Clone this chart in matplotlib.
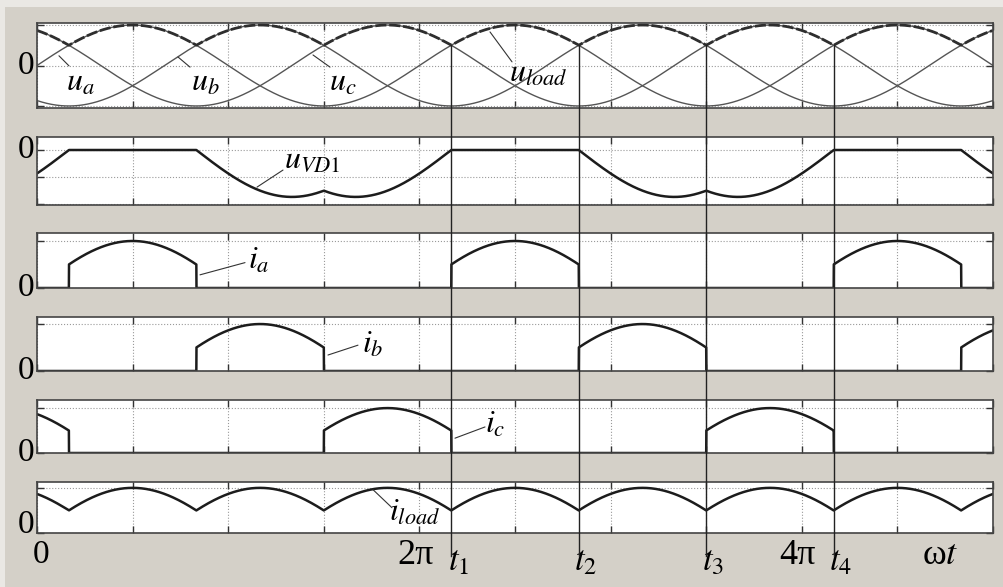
import numpy as np
import matplotlib
matplotlib.use("Agg")
import matplotlib.pyplot as plt
from matplotlib import transforms
from matplotlib.lines import Line2D
from matplotlib.patches import Rectangle

plt.rcParams['font.family'] = ['Liberation Serif', 'DejaVu Serif']
plt.rcParams['mathtext.fontset'] = 'stix'

# Three-phase half-wave rectifier with resistive load (per-unit values)
phase_names = ['a', 'b', 'c']
phase_shift_deg = [0, -120, 120]
amplitude = 1.0
load_resistance = 1.0

# Horizontal span and grid spacing (radians)
omega_t_end = 5 * np.pi
grid_step = np.pi / 2

# Commutation instants t1..t4 (radians)
t_marks = [13 * np.pi / 6, 17 * np.pi / 6, 21 * np.pi / 6, 25 * np.pi / 6]
t_names = ['$t_1$', '$t_2$', '$t_3$', '$t_4$']

# Labels printed under the bottom axis: (position in rad, text)
x_marks = [(2 * np.pi, '2π'), (4 * np.pi, '4π')]

# ---------------------------------------------------------------- waveforms
wt = np.linspace(0, omega_t_end, 6001)
u_phase = np.array([amplitude * np.sin(wt + np.radians(s)) for s in phase_shift_deg])
u_load = u_phase.max(axis=0)
conducting = u_phase.argmax(axis=0)
i_phase = [np.where(conducting == k, u_load / load_resistance, 0.0) for k in range(3)]
i_load = u_load / load_resistance
u_vd1 = u_phase[0] - u_load

# ---------------------------------------------------------------- figure
W, H = 1004, 587
fig = plt.figure(figsize=(W / 100, H / 100), dpi=100)
fig.patch.set_facecolor('#eae8e4')
fig.add_artist(Rectangle((5 / W, 0), 1, 1 - 7 / H, transform=fig.transFigure,
                         facecolor='#d4d0c8', edgecolor='none', zorder=-5))

left_px, right_px = 37, 993
rows_px = [(23, 108), (137, 205), (233, 288), (317, 371), (400, 453), (482, 533)]
ylims = [(-1.05, 1.05), (-2.03, 0.48), (0, 1.17), (0, 1.15), (0, 1.18), (0, 1.13)]
ygrids = [[-1, 0, 1], [-2, -1, 0], [0, 1], [0, 1], [0, 1], [0, 1]]

axes = []
for (top, bot), yl, yg in zip(rows_px, ylims, ygrids):
    ax = fig.add_axes([left_px / W, 1 - bot / H, (right_px - left_px) / W, (bot - top) / H])
    ax.set_facecolor('white')
    ax.set_xlim(0, omega_t_end)
    ax.set_ylim(*yl)
    ax.set_xticks(np.arange(0, omega_t_end + 1e-9, grid_step))
    ax.set_yticks(yg)
    ax.tick_params(direction='in', top=True, right=True, length=5, width=1.0,
                   color='#333333', labelbottom=False, labelleft=False)
    ax.grid(True, ls=':', color='#9a9a9a', lw=0.8)
    for sp in ax.spines.values():
        sp.set_color('#444444')
        sp.set_linewidth(1.2)
    axes.append(ax)

ax1, ax2, ax3, ax4, ax5, ax6 = axes
dark = '#1c1c1c'

# phase voltages and load voltage envelope
for k in range(3):
    ax1.plot(wt, u_phase[k], color='#555555', lw=1.0)
ax1.plot(wt, u_load, color='#2e2e2e', lw=2.0, ls=(0, (4, 1)))

ax2.plot(wt, u_vd1, color=dark, lw=1.8)
ax3.plot(wt, i_phase[0], color=dark, lw=1.8)
ax4.plot(wt, i_phase[1], color=dark, lw=1.8)
ax5.plot(wt, i_phase[2], color=dark, lw=1.8)
ax6.plot(wt, i_load, color=dark, lw=1.8)

# ---------------------------------------------------------------- labels
lab_fs = 23
lead = dict(arrowstyle='-', lw=0.8, color='#333333', shrinkA=0, shrinkB=0)


def tag(ax, text, pos, start, end):
    ax.text(*pos, text, fontsize=lab_fs, ha='center', va='center', zorder=6)
    ax.annotate('', xy=end, xytext=start, arrowprops=lead, zorder=6)


tag(ax1, '$u_a$', (0.72, -0.43), (0.526, -0.01), (0.361, 0.24))
tag(ax1, '$u_b$', (2.76, -0.43), (2.514, -0.04), (2.317, 0.21))
tag(ax1, '$u_c$', (5.03, -0.43), (4.814, -0.04), (4.535, 0.26))
tag(ax1, '$u_{load}$', (8.24, -0.22), (7.805, 0.09), (7.443, 0.83))
tag(ax2, r'$u_{VD\mathrm{1}}$', (4.52, -0.37), (3.615, -1.37), (4.042, -0.74))
tag(ax3, '$i_a$', (3.64, 0.565), (2.678, 0.28), (3.418, 0.54))
tag(ax4, '$i_b$', (5.51, 0.553), (4.781, 0.34), (5.274, 0.55))
tag(ax5, '$i_c$', (7.53, 0.622), (6.868, 0.33), (7.361, 0.58))
tag(ax6, '$i_{load}$', (6.21, 0.44), (5.521, 0.96), (5.833, 0.56))

# zero markers on the left of each panel
zero_levels = [0, 0, 0, 0, 0, 0.18]
for ax, z in zip(axes, zero_levels):
    tr = transforms.blended_transform_factory(fig.transFigure, ax.transData)
    ax.text(34 / W, z, '0', transform=tr, fontsize=24, ha='right', va='center')

# labels under the bottom axis
row_y = 1 - 555 / H
tr_bottom = transforms.blended_transform_factory(ax6.transData, fig.transFigure)
fig.text(0.07, row_y, '0', transform=tr_bottom, fontsize=24, ha='center', va='center')
for pos, text in x_marks:
    fig.text(pos - 0.07, row_y, text, transform=tr_bottom, fontsize=26,
             ha='center', va='center')
fig.text(14.84, row_y, 'ω$t$', transform=tr_bottom, fontsize=26, ha='center', va='center')

# commutation lines from the envelope corners down through all panels
tr_lines = transforms.blended_transform_factory(ax1.transData, fig.transFigure)
to_fig = fig.transFigure.inverted()
for t, name in zip(t_marks, t_names):
    y_top = to_fig.transform(ax1.transData.transform((t, u_load[np.argmin(np.abs(wt - t))])))[1]
    fig.add_artist(Line2D([t, t], [y_top, 1 - 556 / H], transform=tr_lines,
                          color='#222222', lw=1.0, zorder=10))
    fig.text(t + 0.12, 1 - 562 / H, name, transform=tr_bottom, fontsize=25,
             ha='center', va='center')

fig.savefig('out.png', dpi=100, facecolor=fig.get_facecolor())
